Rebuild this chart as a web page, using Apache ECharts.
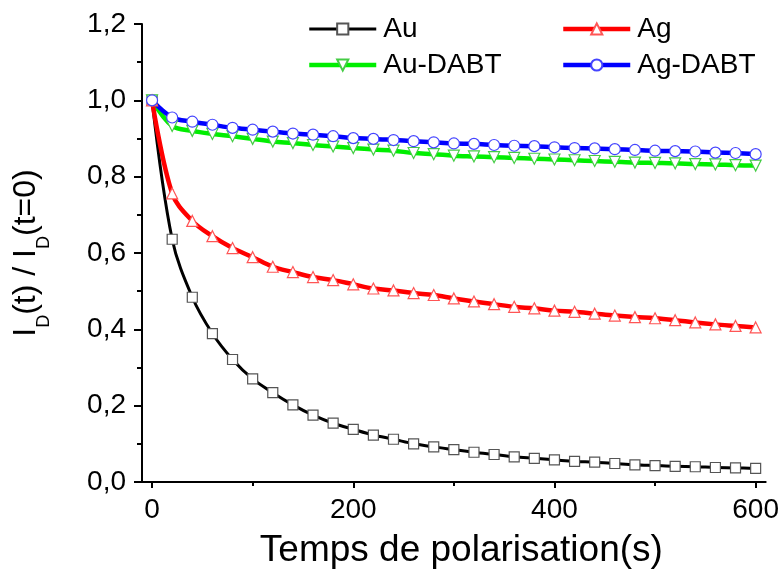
<!DOCTYPE html>
<html>
<head>
<meta charset="utf-8">
<script src="https://cdn.jsdelivr.net/npm/echarts@6/dist/echarts.min.js"></script>
<style>html,body{margin:0;padding:0;background:#fff}#c{width:782px;height:574px}</style>
</head>
<body>
<div id="c"></div>
<script>
const times = [0,20,40,60,80,100,120,140,160,180,200,220,240,260,280,300,320,340,360,380,400,420,440,460,480,500,520,540,560,580,600];
const au = [1.0,0.636,0.484,0.389,0.321,0.270,0.234,0.202,0.175,0.154,0.138,0.123,0.112,0.100,0.092,0.085,0.078,0.072,0.066,0.062,0.058,0.054,0.052,0.0485,0.045,0.043,0.041,0.040,0.038,0.037,0.0355];
const ag = [1.0,0.756,0.684,0.644,0.613,0.589,0.564,0.550,0.537,0.529,0.518,0.507,0.502,0.495,0.490,0.481,0.473,0.466,0.459,0.455,0.449,0.446,0.441,0.436,0.432,0.429,0.424,0.418,0.413,0.409,0.405];
const auDabt = [1.0,0.933,0.920,0.912,0.906,0.899,0.892,0.888,0.883,0.879,0.875,0.871,0.868,0.862,0.859,0.855,0.853,0.851,0.849,0.847,0.845,0.843,0.841,0.839,0.837,0.836,0.835,0.833,0.832,0.830,0.829];
const agDabt = [1.0,0.955,0.944,0.936,0.928,0.923,0.918,0.913,0.910,0.906,0.901,0.899,0.896,0.893,0.890,0.887,0.886,0.883,0.881,0.880,0.877,0.875,0.874,0.872,0.870,0.868,0.867,0.866,0.863,0.862,0.859];
const xMajor = [0,200,400,600];
const xMinor = [100,300,500];

const FONT = 'Liberation Sans, Arial, sans-serif';
const pairs = arr => times.map((t,i)=>[t,arr[i]]);

function mkSeries(name, data, color, border, symbol, rot, lw){
  return {
    name, type:'line', data: pairs(data), xAxisIndex:0, yAxisIndex:0,
    smooth:0.35, symbol, symbolSize: symbol==='rect'?10:11, symbolRotate: rot,
    showAllSymbol:true,
    lineStyle:{color, width:lw},
    itemStyle:{color:'#fff', borderColor:border, borderWidth:1.2},
    emphasis:{disabled:true},
    animation:false
  };
}

const chart = echarts.init(document.getElementById('c'), null, {renderer:'canvas'});
const legendBase = {
  orient:'vertical', top:10, itemWidth:67, itemHeight:14, itemGap:8,
  textStyle:{fontSize:28, fontFamily:FONT, color:'#000', padding:[0,0,0,2]},
  selectedMode:false
};
chart.setOption({
  backgroundColor:'#fff',
  animation:false,
  grid:{left:142, right:15, top:24, bottom:88, containLabel:false},
  legend:[
    Object.assign({left:302, data:[
      {name:'Au', lineStyle:{width:3}},
      {name:'Au-DABT', lineStyle:{width:4.5}}
    ]}, legendBase),
    Object.assign({left:556, data:[
      {name:'Ag', lineStyle:{width:4.5}},
      {name:'Ag-DABT', lineStyle:{width:4.5}}
    ]}, legendBase)
  ],
  xAxis:[{
    type:'value', min:-10, max:610,
    axisLine:{show:true, onZero:false, lineStyle:{color:'#000', width:2}},
    axisTick:{show:true, inside:false, length:6, lineStyle:{color:'#000', width:2}, customValues:xMajor},
    axisLabel:{show:true, customValues:xMajor, fontSize:28, fontFamily:FONT, color:'#000', margin:14},
    splitLine:{show:false},
    name:'Temps de polarisation(s)', nameLocation:'middle', nameGap:50,
    nameTextStyle:{fontSize:37, fontFamily:FONT, color:'#000', padding:[0,0,0,15]}
  },{
    type:'value', min:-10, max:610, position:'bottom', gridIndex:0,
    axisLine:{show:false},
    axisTick:{show:true, inside:false, length:4, lineStyle:{color:'#000', width:2}, customValues:xMinor},
    axisLabel:{show:false},
    splitLine:{show:false}
  }],
  yAxis:{
    type:'value', min:0, max:1.2, interval:0.2,
    axisLine:{show:true, onZero:false, lineStyle:{color:'#000', width:2}},
    axisTick:{show:true, inside:false, length:8, lineStyle:{color:'#000', width:2}},
    minorTick:{show:true, splitNumber:2, length:5, lineStyle:{color:'#000', width:2}},
    axisLabel:{fontSize:28, fontFamily:FONT, color:'#000', margin:16,
      formatter: v => v.toFixed(1).replace('.', ',')},
    splitLine:{show:false},
    name:'{m|I}{s|D}{m|(t) / I}{s|D}{m|(t=0)}', nameLocation:'middle', nameGap:89, nameRotate:90,
    nameTextStyle:{
      fontFamily:FONT, color:'#000',
      rich:{
        m:{fontSize:32, fontFamily:FONT, color:'#000', lineHeight:54},
        s:{fontSize:18, fontFamily:FONT, color:'#000', verticalAlign:'bottom'}
      }
    }
  },
  series:[
    mkSeries('Au', au, '#000000', '#555555', 'rect', 0, 3),
    mkSeries('Au-DABT', auDabt, '#00ee00', '#44cc44', 'triangle', 180, 4.5),
    mkSeries('Ag', ag, '#ff0000', '#ff5555', 'triangle', 0, 4.5),
    mkSeries('Ag-DABT', agDabt, '#0000ff', '#4444ff', 'circle', 0, 4.5)
  ]
});
</script>
</body>
</html>
